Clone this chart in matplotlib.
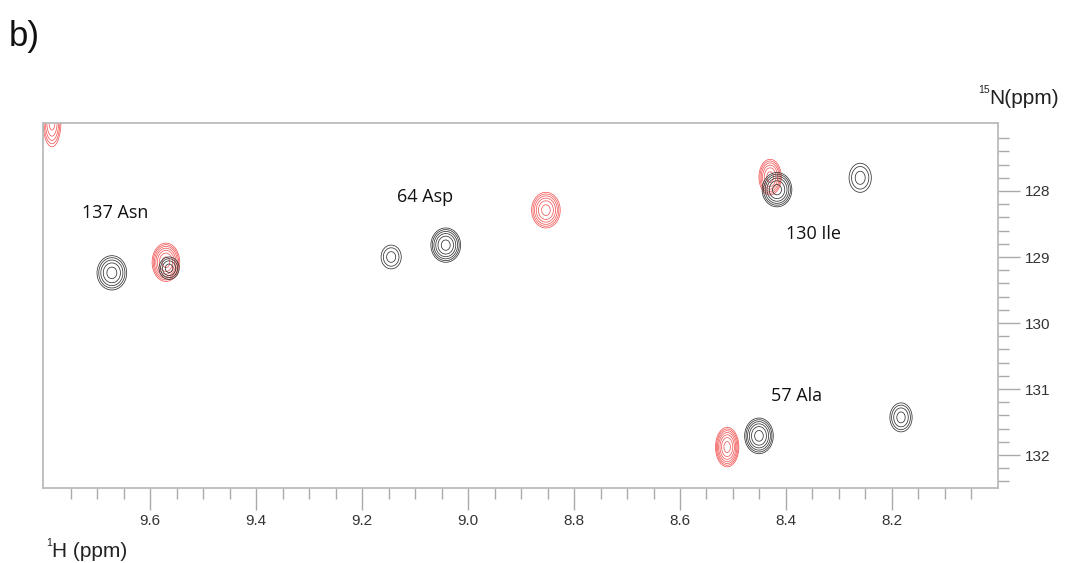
import numpy as np
import matplotlib.pyplot as plt

plt.rcParams['font.family'] = ['Liberation Sans', 'DejaVu Sans']

# Peak list, reference spectrum (black): 1H shift, 15N shift, height, sigma 1H, sigma 15N
black_h = [9.672, 9.564, 9.145, 9.042, 8.417, 8.260, 8.451, 8.183]
black_n = [129.24, 129.17, 129.00, 128.82, 127.98, 127.80, 131.71, 131.43]
black_amp = [3.26, 2.50, 1.93, 4.23, 4.23, 1.93, 4.23, 2.50]
black_sh = [0.0182, 0.0140, 0.0166, 0.0165, 0.0165, 0.0183, 0.0159, 0.0155]
black_sn = [0.169, 0.126, 0.157, 0.153, 0.153, 0.192, 0.159, 0.162]

# Peak list, second spectrum (red)
red_h = [9.785, 9.570, 8.853, 8.430, 8.511]
red_n = [126.95, 129.08, 128.29, 127.79, 131.88]
red_amp = [3.26, 5.50, 4.23, 4.23, 5.50]
red_sh = [0.0110, 0.0141, 0.0159, 0.0124, 0.0119]
red_sn = [0.247, 0.157, 0.159, 0.159, 0.162]

# Residue assignments
labels = ['137 Asn', '64 Asp', '130 Ile', '57 Ala']
label_h = [9.728, 9.134, 8.400, 8.428]
label_n = [128.33, 128.09, 128.65, 131.10]

H_MIN, H_MAX = 8.0, 9.802
N_MIN, N_MAX = 126.97, 132.5


def spectrum(hh, nn, ph, pn, amp, sh, sn):
    """Sum of 2D gaussian peaks on the grid"""
    z = np.zeros_like(hh)
    for h0, n0, a, s1, s2 in zip(ph, pn, amp, sh, sn):
        z += a * np.exp(-0.5 * ((hh - h0) / s1) ** 2 - 0.5 * ((nn - n0) / s2) ** 2)
    return z


h_axis = np.linspace(7.95, 9.9, 2000)
n_axis = np.linspace(126.3, 133.0, 1200)
hh, nn = np.meshgrid(h_axis, n_axis)

z_black = spectrum(hh, nn, black_h, black_n, black_amp, black_sh, black_sn)
z_red = spectrum(hh, nn, red_h, red_n, red_amp, red_sh, red_sn)

levels = 1.0 * 1.3 ** np.arange(0, 10)

fig = plt.figure(figsize=(10.66, 5.63), dpi=100)
ax = fig.add_axes([0.0403, 0.1332, 0.8959, 0.6483])

ax.contour(hh, nn, z_red, levels=levels, colors='#f03030', linewidths=0.55, alpha=0.8)
ax.contour(hh, nn, z_black, levels=levels, colors='#333333', linewidths=0.55)

for txt, x, y in zip(labels, label_h, label_n):
    ax.text(x, y, txt, fontsize=13, family=['Open Sans', 'DejaVu Sans'],
            color='#111111', ha='left', va='center')

ax.set_xlim(H_MAX, H_MIN)
ax.set_ylim(N_MAX, N_MIN)

ax.set_xticks(np.arange(8.2, 9.61, 0.2))
ax.set_xticks(np.arange(8.05, 9.80, 0.05), minor=True)
ax.set_xticklabels(['%.1f' % v for v in np.arange(8.2, 9.61, 0.2)])
ax.set_yticks(np.arange(128, 133))
ax.set_yticks(np.arange(127.2, 132.45, 0.2), minor=True)

ax.yaxis.tick_right()
ax.tick_params(axis='both', which='major', length=16, width=1, color='#aaaaaa',
               labelsize=11, labelcolor='#333333', pad=3)
ax.tick_params(axis='both', which='minor', length=8, width=1, color='#aaaaaa')
ax.tick_params(axis='x', which='major', pad=3)

for s in ax.spines.values():
    s.set_color('#bbbbbb')
    s.set_linewidth(1.3)

# axis titles with small superscript isotope numbers
fig.text(0.0488, 0.0107, 'H (ppm)', fontsize=15, color='#222222', va='baseline')
fig.text(0.0432, 0.030, '1', fontsize=7.5, color='#222222', va='baseline')
fig.text(0.928, 0.815, 'N(ppm)', fontsize=15, color='#222222', va='baseline')
fig.text(0.9175, 0.834, '15', fontsize=7.5, color='#222222', va='baseline')
fig.text(0.008, 0.935, 'b)', fontsize=25, color='#111111', va='center')

fig.savefig('out.png', dpi=100)
